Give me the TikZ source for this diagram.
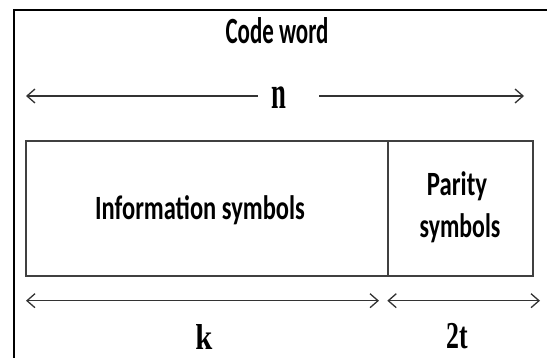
\documentclass[tikz,border=0pt]{standalone}
\usepackage{fontspec}
\setmainfont{Carlito}
\newfontfamily\serifbold{Liberation Serif}
\usetikzlibrary{arrows.meta}
\definecolor{cellgray}{HTML}{404040}
\definecolor{arrgray}{HTML}{333333}
\newcommand{\sq}[3]{{\fontsize{#1}{#1}\selectfont\scalebox{#2}[1]{#3}}}
\begin{document}
\begin{tikzpicture}[x=1pt,y=-1pt,
  lbl/.style={inner sep=0pt, anchor=base, font=\bfseries},
  slbl/.style={inner sep=0pt, anchor=base, font=\serifbold\bfseries},
  cell/.style={draw=cellgray, line width=1.8pt, inner sep=0pt, anchor=north west},
  dim/.style={draw=arrgray, line width=1.3pt},
  barb/.tip={Straight Barb[length=8pt, width=14pt, line width=1.3pt]},
  frameline/.style={draw=black, line width=2.4pt}]
\useasboundingbox (0,0) rectangle (547,358);
\fill[white] (0,0) rectangle (547,358);
% frame (top and left edges)
\coordinate (fbl) at (13.7,358);
\coordinate (ftl) at (13.7,10);
\coordinate (ftr) at (547,10);
\draw[frameline, line join=miter] (fbl) -- (ftl) -- (ftr);
% title
\node[lbl] (code) at (277,44) {\sq{37}{0.62}{Code word}};
% n dimension
\node[slbl] (n) at (279,109) {\sq{46}{0.58}{n}};
\coordinate (nl) at (26,96);
\coordinate (nle) at (258,96);
\coordinate (nrs) at (319,96);
\coordinate (nr) at (524,96);
\draw[dim, barb-] (nl) -- (nle);
\draw[dim, -barb] (nrs) -- (nr);
% cells
\node[cell, minimum width=361.7pt, minimum height=135pt] (info) at (25,140) {};
\node[cell, minimum width=145.6pt, minimum height=135pt] (par) at (386.7,140) {};
\node[lbl] (infot) at (200,220) {\sq{34}{0.72}{Information symbols}};
\node[lbl] (part1) at (457,196) {\sq{34}{0.73}{Parity}};
\node[lbl] (part2) at (460,238) {\sq{34}{0.7}{symbols}};
% k and 2t dimensions
\coordinate (kl) at (26,300.7);
\coordinate (kr) at (379,300.7);
\coordinate (tl) at (387.3,300.7);
\coordinate (tr) at (540,300.7);
\draw[dim, barb-barb] (kl) -- (kr);
\draw[dim, barb-barb] (tl) -- (tr);
\node[slbl] (k) at (204,350) {\sq{36}{0.85}{k}};
\node[slbl] (t) at (457,349) {\sq{38}{0.68}{2t}};
\end{tikzpicture}
\end{document}
